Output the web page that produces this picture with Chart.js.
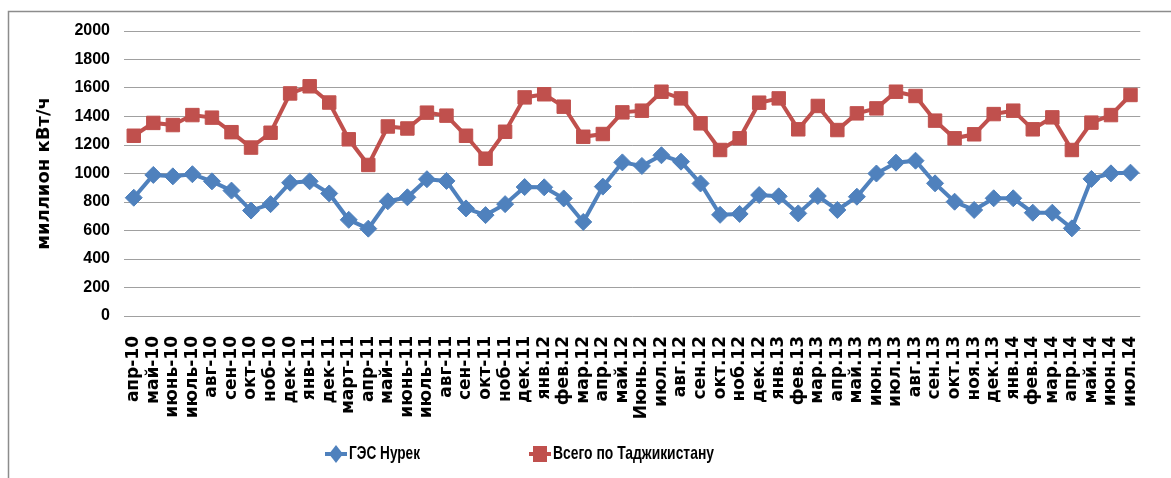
<!DOCTYPE html>
<html>
<head>
<meta charset="utf-8">
<script src="https://cdn.jsdelivr.net/npm/chart.js@4.4.1/dist/chart.umd.min.js"></script>
<style>
  html, body { margin:0; padding:0; background:#fff; }
  #wrap { width:1171px; height:478px; position:relative; }
</style>
</head>
<body>
<div id="wrap"><canvas id="chart"></canvas></div>
<script>
// months (labels kept as in the source sheet)
const months = [
  'апр-10','май-10','июнь-10','июль-10','авг-10','сен-10','окт-10','ноб-10','дек-10',
  'янв-11','дек-11','март-11','апр-11','май-11','июнь-11','июль-11','авг-11','сен-11','окт-11','ноб-11',
  'дек.11','янв.12','фев.12','мар.12','апр.12','май.12','Июнь.12','июл.12','авг.12','сен.12','окт.12','ноб.12','дек.12',
  'янв.13','фев.13','мар.13','апр.13','май.13','июн.13','июл.13','авг.13','сен.13','окт.13','ноя.13','дек.13',
  'янв.14','фев.14','мар.14','апр.14','май.14','июн.14','июл.14'
];

// million kWh
const nurek = [
  830, 990, 980, 995, 945, 880, 740, 785, 935,
  945, 860, 675, 613, 805, 833, 960, 948, 755, 708, 785,
  905, 903, 825, 660, 908, 1078, 1053, 1128, 1083, 930, 710, 716, 849,
  840, 720, 842, 744, 837, 1000, 1076, 1090, 931, 802, 744, 826,
  826, 725, 725, 615, 962, 1001, 1006
];

const tajikTotal = [
  1265, 1355, 1340, 1410, 1392, 1290, 1182, 1286, 1562,
  1612, 1498, 1240, 1060, 1330, 1316, 1427, 1406, 1265, 1104, 1293,
  1534, 1556, 1469, 1258, 1277, 1429, 1441, 1574, 1527, 1352, 1165, 1247, 1497,
  1527, 1310, 1474, 1305, 1422, 1457, 1574, 1544, 1371, 1247, 1275, 1417,
  1441, 1310, 1394, 1165, 1357, 1410, 1551
];

const yTicks = [0, 200, 400, 600, 800, 1000, 1200, 1400, 1600, 1800, 2000];

const BLUE = '#4F81BD';
const RED = '#C0504D';
const narrow = "'Liberation Sans Narrow', 'Liberation Sans', sans-serif";
const wide = "'DejaVu Sans', Verdana, sans-serif";

/* ---------- frame + legend drawn like the Excel original ---------- */
const framePlugin = {
  id: 'frame',
  beforeDraw(chart) {
    const ctx = chart.ctx;
    ctx.save();
    ctx.strokeStyle = '#8c8c8c';
    ctx.lineWidth = 1.5;
    ctx.beginPath();
    ctx.moveTo(8.5, chart.height);
    ctx.lineTo(8.5, 11.5);
    ctx.lineTo(chart.width, 11.5);
    ctx.stroke();
    ctx.restore();
  },
  afterDraw(chart) {
    const ctx = chart.ctx;
    const starts = [325, 529];
    const textW = [71, 161];
    const y = 454;
    ctx.save();
    chart.data.datasets.forEach((ds, i) => {
      const x0 = starts[i];
      ctx.strokeStyle = ds.borderColor;
      ctx.lineWidth = 4;
      ctx.beginPath();
      ctx.moveTo(x0, y);
      ctx.lineTo(x0 + 22, y);
      ctx.stroke();
      ctx.fillStyle = ds.borderColor;
      ctx.beginPath();
      if (ds.pointStyle === 'rectRot') {
        ctx.moveTo(x0 + 11, y - 9);
        ctx.lineTo(x0 + 18, y);
        ctx.lineTo(x0 + 11, y + 9);
        ctx.lineTo(x0 + 4, y);
      } else {
        ctx.rect(x0 + 4, y - 8, 14, 16);
      }
      ctx.fill();
      ctx.fillStyle = '#000';
      ctx.font = 'bold 19px ' + narrow;
      ctx.textBaseline = 'middle';
      ctx.fillText(ds.label, x0 + 24, y, textW[i]);
    });
    ctx.restore();
  }
};

new Chart(document.getElementById('chart'), {
  type: 'line',
  data: {
    labels: months,
    datasets: [
      {
        label: 'ГЭС Нурек',
        data: nurek,
        borderColor: BLUE,
        backgroundColor: BLUE,
        borderWidth: 4,
        pointStyle: 'rectRot',
        pointRadius: 8.5,
        pointHoverRadius: 8.5,
        pointBorderWidth: 1,
        tension: 0
      },
      {
        label: 'Всего по Таджикистану',
        data: tajikTotal,
        borderColor: RED,
        backgroundColor: RED,
        borderWidth: 4,
        pointStyle: 'rect',
        pointRadius: 9.5,
        pointHoverRadius: 9.5,
        pointBorderWidth: 1,
        tension: 0
      }
    ]
  },
  options: {
    responsive: true,
    maintainAspectRatio: false,
    animation: false,
    layout: { padding: { top: 31, right: 8, bottom: 0, left: 0 } },
    plugins: {
      legend: { display: false },
      tooltip: { enabled: false }
    },
    scales: {
      x: {
        offset: true,
        grid: { display: false, drawTicks: false },
        border: { display: false },
        ticks: {
          autoSkip: false,
          minRotation: 90,
          maxRotation: 90,
          padding: 20,
          color: '#000',
          font: { family: wide, size: 17, weight: 'bold' }
        },
        afterFit: (scale) => { scale.height = 162; }
      },
      y: {
        min: 0,
        max: 2000,
        afterBuildTicks: (scale) => { scale.ticks = yTicks.map(v => ({ value: v })); },
        grid: { color: '#a0a0a0', lineWidth: 1, drawTicks: false },
        border: { display: false },
        ticks: {
          padding: 14,
          color: '#000',
          font: { family: narrow, size: 16, weight: 'bold' },
          callback: (v) => String(v)
        },
        title: {
          display: true,
          text: 'миллион кВт/ч',
          color: '#000',
          padding: { top: 34, bottom: 0 },
          font: { family: wide, size: 18, weight: 'bold' }
        },
        afterFit: (scale) => { scale.width = 124; }
      }
    }
  },
  plugins: [framePlugin]
});
</script>
</body>
</html>
